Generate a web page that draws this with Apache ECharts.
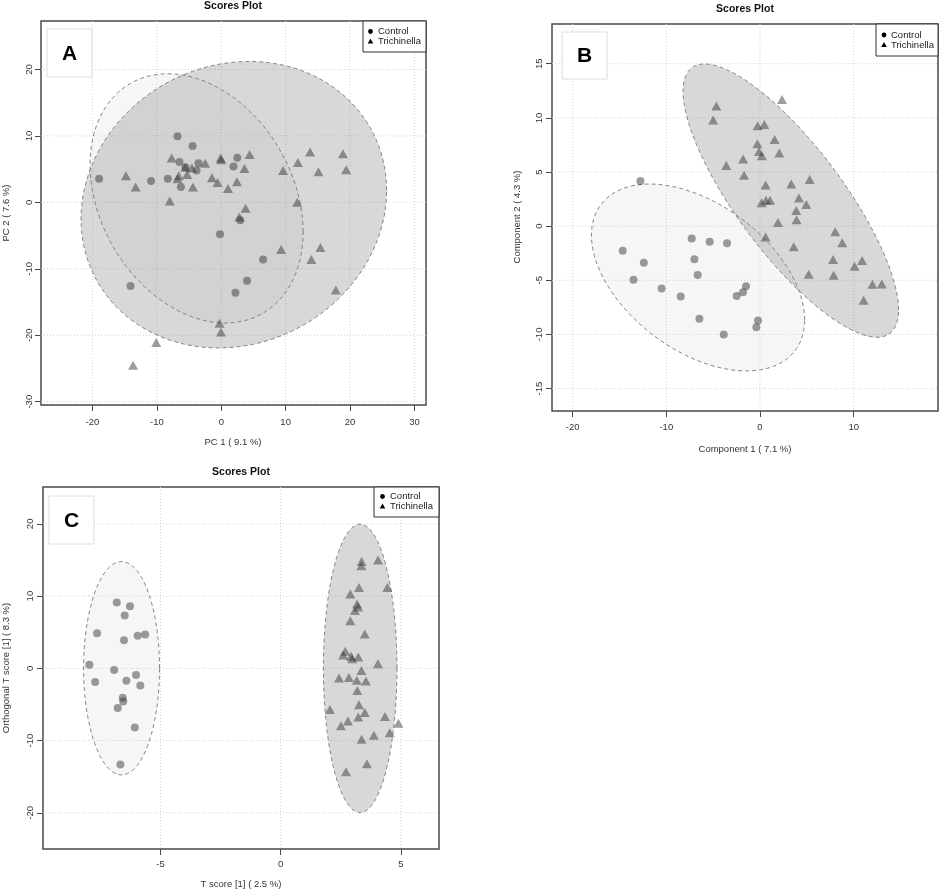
<!DOCTYPE html>
<html><head><meta charset="utf-8">
<script src="https://cdn.jsdelivr.net/npm/echarts@6/dist/echarts.min.js"></script>
<style>html,body{margin:0;padding:0;background:#fff;} #c{width:941px;height:891px;}</style>
</head><body><div id="c"></div>
<script>
// ---------- data ----------
const groups = ['Control', 'Trichinella'];

// Panel A : PCA
const aXTicks = [-20, -10, 0, 10, 20, 30];
const aYTicks = [-30, -20, -10, 0, 10, 20];
const aControl = [[-18.97,3.56],[-6.8,9.97],[-4.46,8.47],[-6.48,6.06],[-3.53,5.9],[-3.84,4.8],[-10.9,3.2],[-8.3,3.56],[-6.27,2.3],[-5.55,5.3],[2.49,6.72],[1.9,5.4],[2.95,-2.7],[-0.2,-4.8],[6.5,-8.6],[4.0,-11.8],[2.2,-13.6],[-14.1,-12.6]];
const aTrich = [[-14.8,4.0],[-13.3,2.3],[-8.0,0.2],[-7.7,6.66],[-6.8,3.56],[-6.6,4.0],[-5.6,5.3],[-5.3,4.2],[-4.4,2.3],[-4.56,5.16],[-2.5,5.9],[-1.45,3.7],[-0.57,3.0],[-0.1,6.66],[0.0,6.4],[1.04,2.1],[2.44,3.1],[3.6,5.1],[4.4,7.2],[3.78,-0.9],[2.8,-2.2],[9.6,4.8],[11.9,6.0],[13.8,7.6],[15.1,4.6],[18.9,7.3],[19.4,4.9],[11.8,0.0],[9.3,-7.1],[15.4,-6.8],[14.0,-8.6],[17.8,-13.2],[-0.26,-18.2],[-0.05,-19.5],[-10.1,-21.1],[-13.7,-24.5]];
// confidence ellipses: [centerX, centerY, halfWidthX, halfHeightY, phase]
const aControlEllipse = [-3.84, 0.6, 16.55, 18.76, -0.273];
const aTrichEllipse = [1.95, -0.35, 23.73, 21.56, 0.10];

// Panel B : PLS-DA
const bXTicks = [-20, -10, 0, 10];
const bYTicks = [-15, -10, -5, 0, 5, 10, 15];
const bControl = [[-12.76,4.16],[-14.65,-2.28],[-12.4,-3.39],[-13.5,-4.96],[-10.5,-5.76],[-8.46,-6.5],[-7.29,-1.14],[-5.37,-1.45],[-3.52,-1.57],[-7.0,-3.05],[-6.65,-4.5],[-1.49,-5.55],[-1.81,-6.1],[-2.49,-6.44],[-6.47,-8.56],[-3.87,-10.0],[-0.21,-8.72],[-0.39,-9.33]];
const bTrich = [[-4.66,11.1],[-5.0,9.8],[2.35,11.7],[-3.6,5.6],[-1.8,6.2],[-1.7,4.7],[-0.25,9.27],[0.46,9.4],[-0.28,7.6],[-0.1,6.9],[0.2,6.5],[1.56,8.0],[2.06,6.75],[0.6,3.8],[3.34,3.9],[5.3,4.3],[4.16,2.6],[4.94,2.0],[3.87,1.45],[3.9,0.6],[0.18,2.16],[0.64,2.4],[1.07,2.4],[1.92,0.34],[0.6,-1.0],[3.6,-1.9],[8.03,-0.52],[8.78,-1.54],[7.8,-3.08],[10.9,-3.17],[10.1,-3.7],[5.2,-4.44],[7.86,-4.53],[12.0,-5.36],[13.0,-5.33],[11.06,-6.84]];
const bControlEllipse = [-6.61, -4.74, 11.38, 8.63, -0.471];
const bTrichEllipse = [3.29, 2.36, 11.5, 12.62, -0.927];

// Panel C : OPLS-DA
const cXTicks = [-5, 0, 5];
const cYTicks = [-20, -10, 0, 10, 20];
const cControl = [[-6.82,9.1],[-6.27,8.6],[-6.49,7.3],[-7.64,4.85],[-6.52,3.9],[-5.95,4.5],[-5.64,4.7],[-7.96,0.5],[-6.93,-0.23],[-7.72,-1.9],[-6.02,-0.92],[-6.42,-1.7],[-5.84,-2.36],[-6.57,-4.06],[-6.55,-4.6],[-6.78,-5.5],[-6.07,-8.18],[-6.67,-13.3]];
const cTrich = [[3.37,14.8],[3.36,14.2],[4.05,15.0],[3.26,11.2],[4.44,11.2],[2.9,10.3],[3.18,8.9],[3.22,8.5],[3.09,8.0],[2.9,6.6],[3.5,4.76],[2.69,2.36],[2.6,1.85],[2.98,1.34],[2.93,1.66],[3.23,1.57],[4.05,0.65],[3.36,-0.28],[2.43,-1.34],[2.84,-1.25],[3.17,-1.66],[3.55,-1.76],[3.19,-3.05],[3.26,-5.03],[2.05,-5.68],[3.5,-6.1],[3.23,-6.74],[4.34,-6.65],[2.8,-7.3],[2.51,-7.94],[4.9,-7.6],[4.54,-8.9],[3.88,-9.24],[3.37,-9.8],[3.59,-13.2],[2.72,-14.3]];
const cControlEllipse = [-6.62, 0.02, 1.58, 14.76, 0];
const cTrichEllipse = [3.31, 0.0, 1.53, 19.95, 0];

// ---------- chart ----------
const FONT = '"Liberation Sans", Arial, sans-serif';
const PT = 'rgba(50,50,50,0.6)';
const chart = echarts.init(document.getElementById('c'));

const panels = [
  {grid:{left:41, top:21, width:385, height:384}, x:[-28,31.8], y:[-30.5,27.3], xt:aXTicks, yt:aYTicks,
   ctl:aControl, tri:aTrich, ec:aControlEllipse, et:aTrichEllipse, xm:12, ym:7},
  {grid:{left:552, top:24, width:386, height:387}, x:[-22.2,19.0], y:[-17.07,18.67], xt:bXTicks, yt:bYTicks,
   ctl:bControl, tri:bTrich, ec:bControlEllipse, et:bTrichEllipse, xm:11, ym:8},
  {grid:{left:43, top:487, width:396, height:362}, x:[-9.89,6.59], y:[-25,25.1], xt:cXTicks, yt:cYTicks,
   ctl:cControl, tri:cTrich, ec:cControlEllipse, et:cTrichEllipse, xm:10, ym:8}
];

function ellipseRender(fill) {
  return function (params, api) {
    const cx = api.value(0), cy = api.value(1), rx = api.value(2), ry = api.value(3), d = api.value(4);
    const pts = [];
    for (let i = 0; i <= 160; i++) {
      const t = i / 160 * Math.PI * 2;
      pts.push(api.coord([cx + rx * Math.cos(t), cy + ry * Math.sin(t + d)]));
    }
    return {type:'polygon', shape:{points:pts},
      style:{fill:fill, stroke:'#858585', lineWidth:1, lineDash:[4,3]}};
  };
}
function vLine(params, api) {
  const cs = params.coordSys; const p = api.coord([api.value(0), api.value(1)]);
  return {type:'line', shape:{x1:p[0], y1:cs.y, x2:p[0], y2:cs.y + cs.height},
    style:{stroke:'#d2d2d2', lineWidth:1, lineDash:[1,2]}};
}
function hLine(params, api) {
  const cs = params.coordSys; const p = api.coord([api.value(0), api.value(1)]);
  return {type:'line', shape:{x1:cs.x, y1:p[1], x2:cs.x + cs.width, y2:p[1]},
    style:{stroke:'#d2d2d2', lineWidth:1, lineDash:[1,2]}};
}

const grids = [], xAxes = [], yAxes = [], series = [];
panels.forEach((p, i) => {
  grids.push(Object.assign({show:true, borderColor:'#4a4a4a', borderWidth:1.5, backgroundColor:'transparent'}, p.grid));
  const tick = {show:true, inside:false, length:6, lineStyle:{color:'#4a4a4a', width:1}};
  xAxes.push({gridIndex:i, type:'value', min:p.x[0], max:p.x[1], position:'bottom',
    axisLine:{show:false, onZero:false}, splitLine:{show:false},
    axisTick:Object.assign({}, tick, {customValues:p.xt}),
    axisLabel:{customValues:p.xt, color:'#333', fontFamily:FONT, fontSize:9.5, margin:p.xm}});
  yAxes.push({gridIndex:i, type:'value', min:p.y[0], max:p.y[1], position:'left',
    axisLine:{show:false, onZero:false}, splitLine:{show:false},
    axisTick:Object.assign({}, tick, {customValues:p.yt}),
    axisLabel:{customValues:p.yt, rotate:90, color:'#333', fontFamily:FONT, fontSize:9.5, margin:p.ym}});
  const mid = (p.x[0] + p.x[1]) / 2, midY = (p.y[0] + p.y[1]) / 2;
  series.push({type:'custom', xAxisIndex:i, yAxisIndex:i, renderItem:vLine, silent:true, z:1,
    data:p.xt.map(v => [v, midY])});
  series.push({type:'custom', xAxisIndex:i, yAxisIndex:i, renderItem:hLine, silent:true, z:1,
    data:p.yt.map(v => [mid, v])});
  series.push({type:'custom', xAxisIndex:i, yAxisIndex:i, renderItem:ellipseRender('rgba(205,205,205,0.18)'),
    silent:true, z:2, clip:true, data:[p.ec]});
  series.push({type:'custom', xAxisIndex:i, yAxisIndex:i, renderItem:ellipseRender('rgba(125,125,125,0.3)'),
    silent:true, z:3, clip:true, data:[p.et]});
  series.push({type:'scatter', name:groups[0], xAxisIndex:i, yAxisIndex:i, symbol:'circle', symbolSize:8,
    itemStyle:{color:PT}, z:5, data:p.ctl});
  series.push({type:'scatter', name:groups[1], xAxisIndex:i, yAxisIndex:i, symbol:'triangle', symbolSize:[10,9],
    itemStyle:{color:PT}, z:5, data:p.tri});
});

function txt(x, y, s, o) {
  return Object.assign({type:'text', x:x, y:y, z:100,
    style:Object.assign({text:s, fill:'#333', font:'9.5px ' + FONT, align:'center', verticalAlign:'middle'}, o || {})});
}
function letterBox(x, y, w, h, s) {
  return [
    {type:'rect', shape:{x:x, y:y, width:w, height:h}, style:{fill:'#fff', stroke:'#dcdcdc', lineWidth:1}, z:100},
    txt(x + w / 2, y + h / 2 + 1, s, {font:'bold 21px ' + FONT, fill:'#000'})
  ];
}
function legendBox(x, y, w, h, bx, tx, y1, y2) {
  return [
    {type:'rect', shape:{x:x, y:y, width:w, height:h}, style:{fill:'#fff', stroke:'#333', lineWidth:1}, z:100},
    {type:'circle', shape:{cx:bx, cy:y1, r:2.4}, style:{fill:'#000'}, z:101},
    {type:'polygon', shape:{points:[[bx, y2 - 3],[bx - 2.8, y2 + 2],[bx + 2.8, y2 + 2]]}, style:{fill:'#000'}, z:101},
    txt(tx, y1, groups[0], {align:'left', fill:'#222'}),
    txt(tx, y2, groups[1], {align:'left', fill:'#222'})
  ];
}

const graphic = [].concat(
  [txt(233, 6, 'Scores Plot', {font:'bold 10.5px ' + FONT, fill:'#111'}),
   txt(745, 9, 'Scores Plot', {font:'bold 10.5px ' + FONT, fill:'#111'}),
   txt(241, 472, 'Scores Plot', {font:'bold 10.5px ' + FONT, fill:'#111'}),
   txt(233, 442, 'PC 1 ( 9.1 %)'),
   txt(745, 449, 'Component 1 ( 7.1 %)'),
   txt(241, 884, 'T score [1] ( 2.5 %)'),
   Object.assign(txt(6, 213, 'PC 2 ( 7.6 %)'), {rotation:Math.PI / 2}),
   Object.assign(txt(517, 217, 'Component 2 ( 4.3 %)'), {rotation:Math.PI / 2}),
   Object.assign(txt(6, 668, 'Orthogonal T score [1] ( 8.3 %)'), {rotation:Math.PI / 2})],
  letterBox(47, 29, 45, 48, 'A'),
  letterBox(562, 32, 45, 47, 'B'),
  letterBox(49, 496, 45, 48, 'C'),
  legendBox(363, 21, 63, 31, 370.5, 378, 31.5, 41.5),
  legendBox(876, 24, 62, 32, 884, 891, 35, 45),
  legendBox(374, 487, 65, 30, 382.5, 390, 496.5, 506.5)
);

chart.setOption({
  animation:false,
  backgroundColor:'#fff',
  grid:grids, xAxis:xAxes, yAxis:yAxes, series:series, graphic:graphic
});
</script></body></html>
